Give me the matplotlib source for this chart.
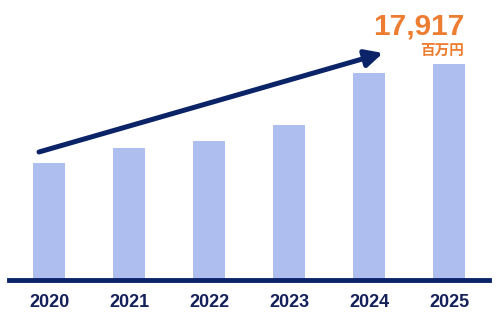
"""
売上推移の棒グラフ (2020-2025)
"""

import matplotlib.pyplot as plt
import numpy as np

# データ
years = ['2020', '2021', '2022', '2023', '2024', '2025']
values = [9700, 10950, 11530, 12860, 17170, 17917]
total_label = '17,917'
unit_label = '百万円'

BAR_COLOR = '#AEBEEE'
NAVY = '#0B2468'
ORANGE = '#ED7D31'

fig = plt.figure(figsize=(5.0, 3.18), dpi=100)
# 軸は x: 9〜489px, y: 0〜280px (上から)
ax = fig.add_axes([9 / 500, 38 / 318, 480 / 500, 280 / 318])

x = np.arange(len(years))
ax.bar(x, values, width=0.4, color=BAR_COLOR, zorder=1)

ax.set_xlim(-0.5, 5.5)
ax.set_ylim(0, 23230)

# 下の太いライン
ax.axhline(0, color=NAVY, lw=3.5, zorder=3, clip_on=False)

# 矢印 (2020 から 2024 付近へ)
ax.annotate('', xy=(x[4] + 0.175, values[4] + 1660),
            xytext=(x[0] - 0.125, values[0] + 920),
            arrowprops=dict(arrowstyle='-|>', lw=3.6, color=NAVY,
                            mutation_scale=26, shrinkA=0, shrinkB=0),
            zorder=4)

# 2025年の値
ax.text(x[5] + 0.19, 20330, total_label, ha='right', va='baseline',
        fontsize=21.5, fontweight='bold', color=ORANGE,
        family=['Liberation Sans', 'DejaVu Sans'])
ax.text(x[5] + 0.19, 18650, unit_label, ha='right', va='baseline',
        fontsize=10.5, fontweight='bold', color=ORANGE,
        family=['Noto Sans CJK JP', 'DejaVu Sans'])

ax.set_xticks(x)
ax.set_xticklabels(years, fontsize=13, fontweight='bold', color='#14215A',
                   family=['Liberation Sans', 'DejaVu Sans'])
ax.tick_params(axis='x', length=0, pad=10)
ax.set_yticks([])
for s in ax.spines.values():
    s.set_visible(False)

fig.savefig('out.png', dpi=100)
